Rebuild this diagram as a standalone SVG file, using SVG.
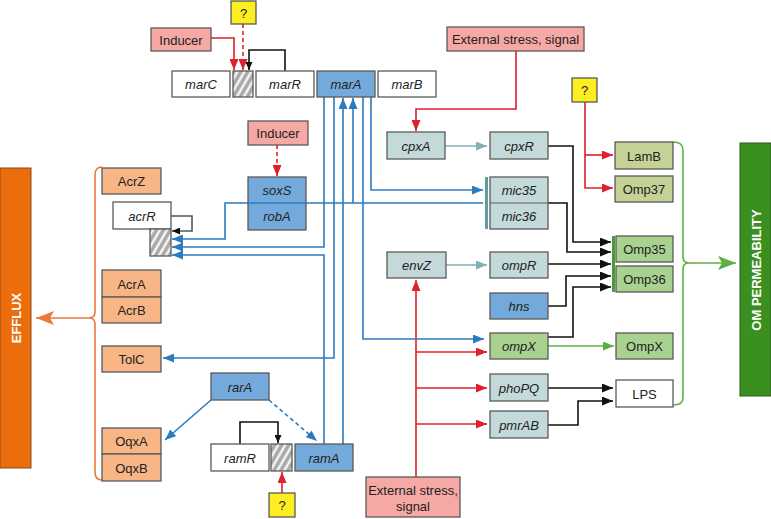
<svg xmlns="http://www.w3.org/2000/svg" width="771" height="519" viewBox="0 0 771 519">
<style>
.b{stroke:#5a5a5a;stroke-width:1.3}
.pink{fill:#F6A8A4}.yel{fill:#FCEE21}.wh{fill:#fff}.blu{fill:#74AADB}.teal{fill:#C3D9DA}.org{fill:#F8B686}.grn{fill:#A9D290}.olv{fill:#C5D295}
text{font-family:"Liberation Sans",Arial,sans-serif;font-size:13px;fill:#222;text-anchor:middle;dominant-baseline:central}
.i{font-style:italic}
.bar{font-weight:bold;fill:#fff;font-size:13px}
.ln{fill:none;stroke-width:1.6}
.red{stroke:#E0202A}.bl{stroke:#2B7BC0}.bk{stroke:#111}.tl{stroke:#7FB0B4}.gr{stroke:#5DB040}.or{stroke:#EB7A3A}
</style>
<defs>
<pattern id="hatch" width="6" height="6" patternUnits="userSpaceOnUse" patternTransform="rotate(30)">
<rect width="6" height="6" fill="#A9A9A9"/><line x1="1.5" y1="0" x2="1.5" y2="6" stroke="#fff" stroke-width="2.2"/>
</pattern>
<marker id="mr" markerUnits="userSpaceOnUse" markerWidth="11" markerHeight="9" refX="11" refY="4.5" orient="auto"><path d="M0,0 L11,4.5 L0,9 z" fill="#E0202A"/></marker>
<marker id="mb" markerUnits="userSpaceOnUse" markerWidth="11" markerHeight="9" refX="11" refY="4.5" orient="auto"><path d="M0,0 L11,4.5 L0,9 z" fill="#2B7BC0"/></marker>
<marker id="mk" markerUnits="userSpaceOnUse" markerWidth="11" markerHeight="9" refX="11" refY="4.5" orient="auto"><path d="M0,0 L11,4.5 L0,9 z" fill="#111"/></marker>
<marker id="mks" markerUnits="userSpaceOnUse" markerWidth="8" markerHeight="7" refX="8" refY="3.5" orient="auto"><path d="M0,0 L8,3.5 L0,7 z" fill="#111"/></marker>
<marker id="mt" markerUnits="userSpaceOnUse" markerWidth="11" markerHeight="9" refX="11" refY="4.5" orient="auto"><path d="M0,0 L11,4.5 L0,9 z" fill="#7FB0B4"/></marker>
<marker id="mg" markerUnits="userSpaceOnUse" markerWidth="11" markerHeight="9" refX="11" refY="4.5" orient="auto"><path d="M0,0 L11,4.5 L0,9 z" fill="#5DB040"/></marker>
<marker id="mgL" markerUnits="userSpaceOnUse" markerWidth="18" markerHeight="14" refX="18" refY="7" orient="auto"><path d="M0,0 L18,7 L0,14 L4,7 z" fill="#5DB040"/></marker>
<marker id="moL" markerUnits="userSpaceOnUse" markerWidth="18" markerHeight="14" refX="18" refY="7" orient="auto"><path d="M0,0 L18,7 L0,14 L4,7 z" fill="#EB7A3A"/></marker>
</defs>

<g id="connectors">
<!-- red -->
<path class="ln red" d="M211,38 H234 V70" marker-end="url(#mr)"/>
<path class="ln red" d="M243,24 V70" stroke-dasharray="4,3" marker-end="url(#mr)"/>
<path class="ln red" d="M516,51 V109 H416 V131" marker-end="url(#mr)"/>
<path class="ln red" d="M277,145 V176" stroke-dasharray="4,3" marker-end="url(#mr)"/>
<path class="ln red" d="M585,102 V188 H613" marker-end="url(#mr)"/>
<path class="ln red" d="M585,155 H613" marker-end="url(#mr)"/>
<path class="ln red" d="M416,477 V280" marker-end="url(#mr)"/>
<path class="ln red" d="M416,352 H487" marker-end="url(#mr)"/>
<path class="ln red" d="M416,388 H487" marker-end="url(#mr)"/>
<path class="ln red" d="M416,424 H487" marker-end="url(#mr)"/>
<path class="ln red" d="M282,493 V472" marker-end="url(#mr)"/>
<!-- black -->
<path class="ln bk" stroke-width="1.2" d="M285,71 V50 H249 V70" marker-end="url(#mks)"/>
<path class="ln bk" stroke-width="1.2" d="M240,444 V422 H278 V443" marker-end="url(#mks)"/>
<path class="ln" stroke="#555" stroke-width="1.2" d="M171,216 H192 V231 H172" marker-end="url(#mks)"/>
<path class="ln bk" d="M548,146 H573 V242 H611" marker-end="url(#mk)"/>
<path class="ln bk" d="M548,203 H567 V252 H611" marker-end="url(#mk)"/>
<path class="ln bk" d="M548,264 H611" marker-end="url(#mk)"/>
<path class="ln bk" d="M548,306 H566 V276 H611" marker-end="url(#mk)"/>
<path class="ln bk" d="M548,337 H573 V287 H611" marker-end="url(#mk)"/>
<path class="ln bk" d="M548,388 H613" marker-end="url(#mk)"/>
<path class="ln bk" d="M548,425 H578 V401 H613" marker-end="url(#mk)"/>
<!-- teal -->
<path class="ln tl" d="M445,146 H487" marker-end="url(#mt)"/>
<path class="ln tl" d="M446,265 H487" marker-end="url(#mt)"/>
<!-- green -->
<path class="ln gr" d="M548,346 H614" marker-end="url(#mg)"/>
<path class="ln gr" stroke-width="2" d="M673,142 Q683,142 683,150 V257 Q683,263 689,263 Q683,263 683,269 V398 Q683,405 673,405"/>
<path class="ln gr" stroke-width="2.5" d="M689,263 H736" marker-end="url(#mgL)"/>
<!-- blue -->
<path class="ln bl" d="M371,97 V190 H483" marker-end="url(#mb)"/>
<path class="ln bl" d="M483,203 H225 V239 H172" marker-end="url(#mb)"/>
<path class="ln bl" d="M353,203 V98" marker-end="url(#mb)"/>
<path class="ln bl" d="M324,97 V247 H172" marker-end="url(#mb)"/>
<path class="ln bl" d="M324,444 V255 H172" marker-end="url(#mb)"/>
<path class="ln bl" d="M334,97 V358 H163" marker-end="url(#mb)"/>
<path class="ln bl" d="M343,444 V98" marker-end="url(#mb)"/>
<path class="ln bl" d="M363,97 V339 H484" marker-end="url(#mb)"/>
<path class="ln bl" d="M211,400 L165,440" marker-end="url(#mb)"/>
<path class="ln bl" d="M269,400 L317,441" stroke-dasharray="4,3" marker-end="url(#mb)"/>
<!-- orange -->
<path class="ln or" stroke-width="2" d="M102,167 Q95,167 95,175 V312 Q95,318 89,318 Q95,318 95,324 V472 Q95,480 102,480"/>
<path class="ln or" stroke-width="2.5" d="M90,318 H36" marker-end="url(#moL)"/>
</g>

<g id="q1"><rect class="b yel" x="231" y="1" width="25" height="23"/><text x="243.5" y="13">?</text></g>
<g id="inducer1"><rect class="b pink" x="151" y="28" width="60" height="23"/><text x="181" y="40">Inducer</text></g>
<g id="marC"><rect class="b wh" x="172" y="71" width="58" height="26"/><text class="i" x="201" y="84">marC</text></g>
<g id="marbox"><rect class="b" fill="url(#hatch)" x="233" y="71" width="20" height="26"/></g>
<g id="marR"><rect class="b wh" x="256" y="71" width="58" height="26"/><text class="i" x="285" y="84">marR</text></g>
<g id="marA"><rect class="b blu" x="317" y="71" width="58" height="26"/><text class="i" x="346" y="84">marA</text></g>
<g id="marB"><rect class="b wh" x="378" y="71" width="58" height="26"/><text class="i" x="407" y="84">marB</text></g>
<g id="ext1"><rect class="b pink" x="447" y="27" width="137" height="24"/><text x="515.5" y="39">External stress, signal</text></g>
<g id="inducer2"><rect class="b pink" x="248" y="121" width="60" height="24"/><text x="278" y="133">Inducer</text></g>
<g id="soxS-robA"><rect class="b blu" x="248" y="177" width="58" height="53"/><line x1="248" y1="203" x2="306" y2="203" stroke="#2B7BC0" stroke-width="1.6"/><text class="i" x="277" y="190">soxS</text><text class="i" x="277" y="216">robA</text></g>
<g id="cpxA"><rect class="b teal" x="387" y="132" width="58" height="27"/><text class="i" x="416" y="146">cpxA</text></g>
<g id="cpxR"><rect class="b teal" x="490" y="132" width="58" height="27"/><text class="i" x="519" y="146">cpxR</text></g>
<g id="q2"><rect class="b yel" x="572" y="78" width="25" height="24"/><text x="584.5" y="90">?</text></g>
<g id="LamB"><rect class="b olv" x="615" y="142" width="58" height="27"/><text x="644" y="156">LamB</text></g>
<g id="Omp37"><rect class="b olv" x="615" y="176" width="58" height="26"/><text x="644" y="189">Omp37</text></g>
<g id="mic"><rect class="b teal" x="490" y="177" width="58" height="52"/><line x1="490" y1="203" x2="548" y2="203" stroke="#5a5a5a" stroke-width="1"/><rect x="485" y="177" width="3" height="52" fill="#5E9EA0"/><text class="i" x="519" y="190">mic35</text><text class="i" x="519" y="216">mic36</text></g>
<g id="Omp35-36"><rect class="b grn" x="616" y="236" width="57" height="26"/><rect class="b grn" x="616" y="266" width="57" height="26"/><rect x="612" y="236" width="3" height="56" fill="#4E9A36"/><text x="644.5" y="249">Omp35</text><text x="644.5" y="279">Omp36</text></g>
<g id="envZ"><rect class="b teal" x="387" y="252" width="59" height="26"/><text class="i" x="416.5" y="265">envZ</text></g>
<g id="ompR"><rect class="b teal" x="490" y="252" width="58" height="26"/><text class="i" x="519" y="265">ompR</text></g>
<g id="hns"><rect class="b blu" x="490" y="293" width="58" height="26"/><text class="i" x="519" y="306">hns</text></g>
<g id="ompX"><rect class="b grn" x="490" y="333" width="58" height="26"/><text class="i" x="519" y="346">ompX</text></g>
<g id="OmpXp"><rect class="b grn" x="616" y="333" width="57" height="26"/><text x="644.5" y="346">OmpX</text></g>
<g id="phoPQ"><rect class="b teal" x="490" y="374" width="58" height="27"/><text class="i" x="519" y="388">phoPQ</text></g>
<g id="LPS"><rect class="b wh" x="616" y="380" width="57" height="27"/><text x="644.5" y="394">LPS</text></g>
<g id="pmrAB"><rect class="b teal" x="490" y="411" width="58" height="27"/><text class="i" x="519" y="425">pmrAB</text></g>
<g id="ext2"><rect class="b pink" x="366" y="477" width="94" height="40"/><text x="413" y="490">External stress,</text><text x="413" y="506">signal</text></g>
<g id="rarA"><rect class="b blu" x="211" y="373" width="58" height="27"/><text class="i" x="240" y="387">rarA</text></g>
<g id="ramR"><rect class="b wh" x="211" y="444" width="58" height="27"/><text class="i" x="240" y="458">ramR</text></g>
<g id="rambox"><rect class="b" fill="url(#hatch)" x="271" y="444" width="21" height="27"/></g>
<g id="ramA"><rect class="b blu" x="295" y="444" width="58" height="27"/><text class="i" x="324" y="458">ramA</text></g>
<g id="q3"><rect class="b yel" x="269" y="493" width="26" height="24"/><text x="282" y="505">?</text></g>
<g id="AcrZ"><rect class="b org" x="102" y="168" width="59" height="26"/><text x="131.5" y="181">AcrZ</text></g>
<g id="acrR"><rect class="b wh" x="113" y="202" width="58" height="27"/><text class="i" x="142" y="216">acrR</text><rect class="b" fill="url(#hatch)" x="150" y="229" width="21" height="27"/></g>
<g id="AcrAB"><rect class="b org" x="102" y="270" width="59" height="27"/><rect class="b org" x="102" y="297" width="59" height="26"/><text x="131.5" y="284">AcrA</text><text x="131.5" y="310">AcrB</text></g>
<g id="TolC"><rect class="b org" x="102" y="346" width="59" height="26"/><text x="131.5" y="359">TolC</text></g>
<g id="OqxAB"><rect class="b org" x="102" y="428" width="59" height="26"/><rect class="b org" x="102" y="454" width="59" height="27"/><text x="131.5" y="441">OqxA</text><text x="131.5" y="468">OqxB</text></g>
<g id="EFFLUX"><rect x="0" y="168" width="31" height="300" fill="#EC6D0B" stroke="#8a4a1a" stroke-width="1"/><text class="bar" transform="translate(16,318) rotate(-90)">EFFLUX</text></g>
<g id="OMPERM"><rect x="740" y="143" width="31" height="253" fill="#3A8F1E" stroke="#2a5a1a" stroke-width="1"/><text class="bar" transform="translate(756,270) rotate(-90)">OM PERMEABILITY</text></g>
</svg>
